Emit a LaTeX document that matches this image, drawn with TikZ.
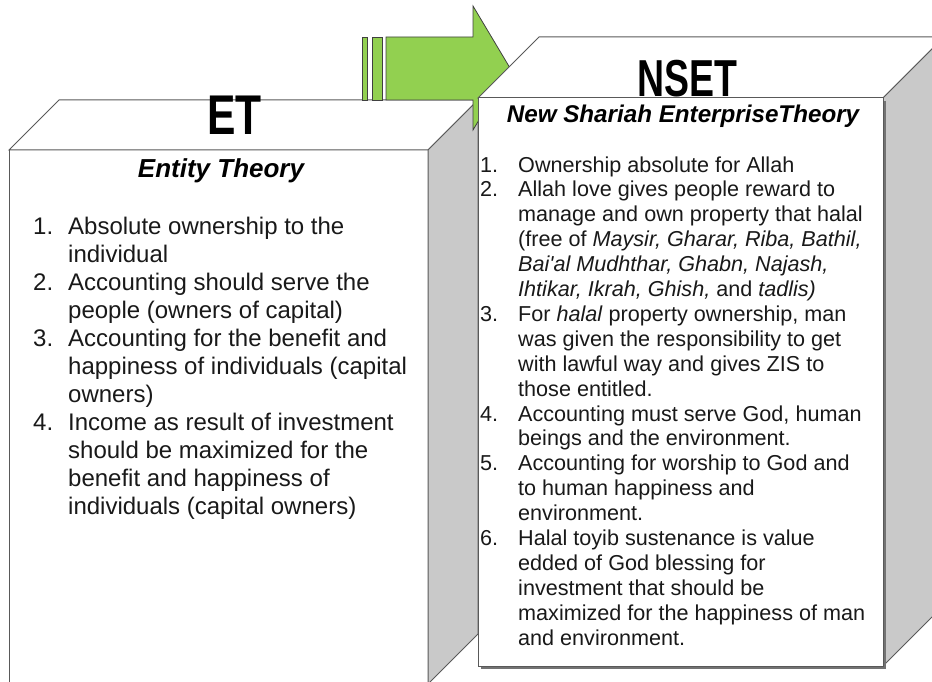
\documentclass[tikz,border=0pt]{standalone}
\usepackage{fontspec}
\setmainfont{Liberation Sans}
\definecolor{edgegray}{HTML}{595959}
\definecolor{sidegray}{HTML}{C9C9C9}
\definecolor{arrowgreen}{HTML}{92D050}
\tikzset{
  face/.style = {fill=white, draw=edgegray, line width=1pt},
  sideface/.style = {fill=sidegray, draw=edgegray, line width=1pt},
  bigarrow/.style = {fill=arrowgreen, draw=black!75, line width=0.8pt},
  etline/.style = {anchor=base west, inner sep=0pt, text=black!90, font=\fontsize{24}{28}\selectfont},
  nsline/.style = {anchor=base west, inner sep=0pt, text=black!90, font=\fontsize{21.6}{25}\selectfont},
  subtitle/.style = {anchor=base, inner sep=0pt, font=\bfseries\itshape},
  bigtitle/.style = {anchor=base, inner sep=0pt},
}
\begin{document}
\begin{tikzpicture}[x=1pt, y=-1pt]
\useasboundingbox (0,0) rectangle (932,682);
% ET box
\filldraw[face] (9,150) rectangle (428,684);
\filldraw[face] (9,150) -- (59,100) -- (478,100) -- (428,150) -- cycle;
\filldraw[sideface] (428,150) -- (478,100) -- (478,634) -- (428,684) -- cycle;
% arrow ET -> NSET
\filldraw[bigarrow] (362,37) rectangle (367,100);
\filldraw[bigarrow] (372,37) rectangle (382,100);
\filldraw[bigarrow] (386,37) -- (473,37) -- (473,6) -- (510,68) -- (473,130) -- (473,100) -- (386,100) -- cycle;
% NSET box
\filldraw[face] (478,98) -- (539,37) -- (944,37) -- (883,98) -- cycle;
\filldraw[sideface] (883,98) -- (944,37) -- (944,605) -- (883,666) -- cycle;
\fill[black!55] (481,101) rectangle (886,669);
\filldraw[face] (478,98) rectangle (883,666);
% titles
\node[bigtitle] (et-title) at (234.5,135) {\scalebox{0.76}[1]{\fontsize{56}{56}\selectfont\bfseries ET}};
\node[bigtitle] (nset-title) at (687,97) {\scalebox{0.72}[1]{\fontsize{52}{52}\selectfont\bfseries NSET}};
\node[subtitle, font=\fontsize{26}{26}\selectfont\bfseries\itshape] (et-sub) at (221,178) {Entity Theory};
\node[subtitle, font=\fontsize{24.2}{24.2}\selectfont\bfseries\itshape] (nset-sub) at (683,123) {New Shariah EnterpriseTheory};
% ET list
\foreach \txt [count=\i] in {{Absolute ownership to the}, {individual}, {Accounting should serve the},
  {people (owners of capital)}, {Accounting for the benefit and}, {happiness of individuals (capital},
  {owners)}, {Income as result of investment}, {should be maximized for the},
  {benefit and happiness of}, {individuals (capital owners)}}
  \node[etline] (et-\i) at (68, {234+28*(\i-1)}) {\txt};
\foreach \num/\ln in {1/1, 2/3, 3/5, 4/8}
  \node[etline] (et-num-\num) at (33, {234+28*(\ln-1)}) {\num.};
% NSET list
\foreach \txt [count=\i] in {{Ownership absolute for Allah}, {Allah love gives people reward to},
  {manage and own property that halal}, {(free of \textit{Maysir, Gharar, Riba, Bathil,}},
  {\textit{Bai\textquotesingle al Mudhthar, Ghabn, Najash,}}, {\textit{Ihtikar, Ikrah, Ghish,} and \textit{tadlis)}},
  {For \textit{halal} property ownership, man}, {was given the responsibility to get},
  {with lawful way and gives ZIS to}, {those entitled.}, {Accounting must serve God, human},
  {beings and the environment.}, {Accounting for worship to God and}, {to human happiness and},
  {environment.}, {Halal toyib sustenance is value}, {edded of God blessing for},
  {investment that should be}, {maximized for the happiness of man}, {and environment.}}
  \node[nsline] (ns-\i) at (518, {172+24.9*(\i-1)}) {\txt};
\foreach \num/\ln in {1/1, 2/2, 3/7, 4/11, 5/13, 6/16}
  \node[nsline] (ns-num-\num) at (480, {172+24.9*(\ln-1)}) {\num.};
\end{tikzpicture}
\end{document}
